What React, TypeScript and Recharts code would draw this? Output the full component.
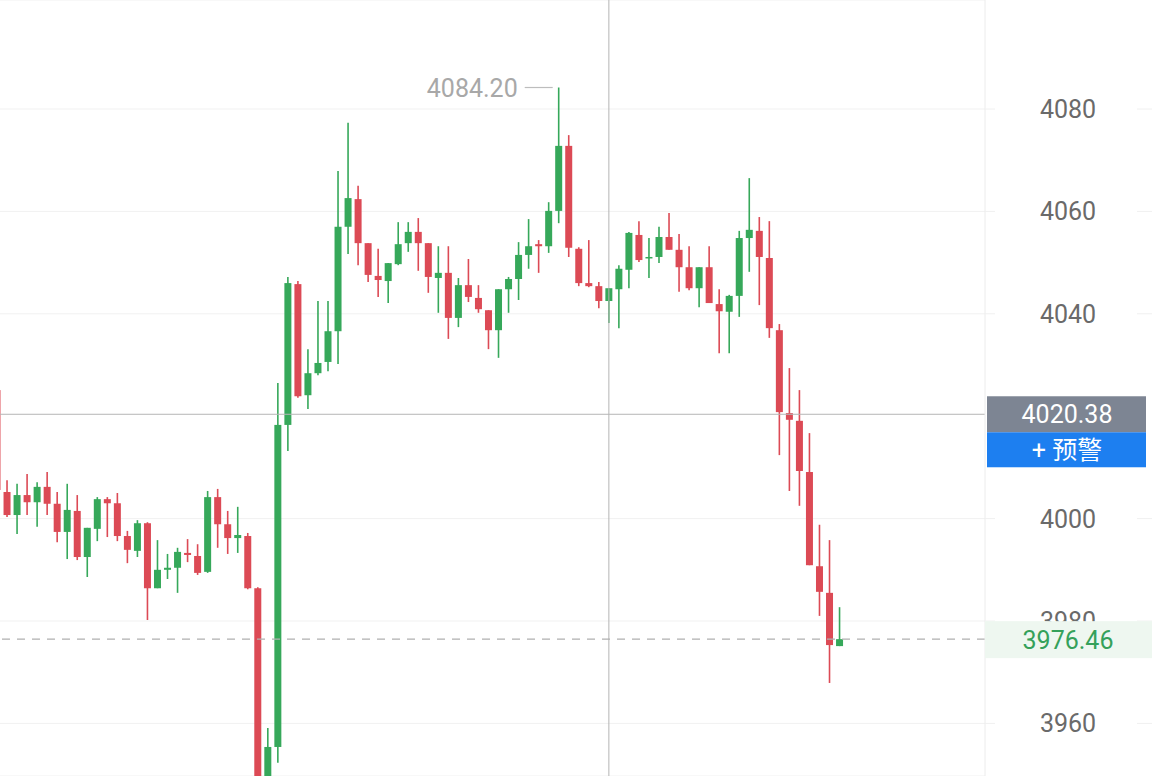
import React from "react"
import { ComposedChart, Bar, XAxis, YAxis, CartesianGrid, ReferenceLine, ReferenceDot } from "recharts"

// OHLC per candle, left to right (first one is cut off by the left edge)
const opens = [
  4025.1, 4005.2, 4000.7, 4004.6, 4003.2, 4006.2, 4002.9, 3997.4, 4001.5, 3992.5,
  3998.0, 4003.8, 4003.0, 3996.6, 3993.7, 3999.1, 3986.4, 3990.0, 3990.4, 3993.3,
  3992.7, 3989.6, 4004.2, 3998.9, 3996.2, 3996.6, 3986.4, 3946.0, 3955.4, 4018.3,
  4045.8, 4024.1, 4028.4, 4030.6, 4036.6, 4057.0, 4062.4, 4053.8, 4047.4, 4046.4,
  4049.7, 4053.8, 4056.0, 4053.8, 4047.0, 4048.0, 4039.2, 4045.6, 4043.1, 4040.7,
  4036.8, 4044.8, 4046.8, 4051.5, 4053.6, 4053.2, 4060.1, 4072.8, 4052.7, 4046.0,
  4045.4, 4042.5, 4044.8, 4048.6, 4055.4, 4051.0, 4051.1, 4055.0, 4052.5, 4049.1,
  4045.0, 4049.1, 4041.9, 4040.4, 4043.5, 4054.8, 4056.2, 4050.9, 4036.8, 4020.6,
  4019.1, 4009.1, 3990.7, 3985.5, 3975.1,
]
const closes = [
  4005.6, 4000.7, 4004.6, 4003.2, 4006.2, 4002.9, 3997.4, 4001.7, 3992.5, 3998.2,
  4003.8, 4003.0, 3996.6, 3993.9, 3999.1, 3986.4, 3990.0, 3990.4, 3993.5, 3992.9,
  3989.4, 4004.2, 3998.9, 3996.2, 3996.8, 3986.4, 3945.0, 3955.4, 4018.3, 4046.0,
  4023.9, 4028.4, 4030.4, 4036.6, 4057.0, 4062.6, 4053.8, 4047.6, 4046.6, 4049.9,
  4053.6, 4056.0, 4053.8, 4047.2, 4048.0, 4039.2, 4045.6, 4043.3, 4040.9, 4036.8,
  4044.8, 4046.8, 4051.5, 4053.2, 4053.2, 4060.1, 4072.8, 4052.9, 4046.0, 4045.4,
  4042.5, 4045.0, 4048.8, 4055.8, 4050.5, 4051.1, 4055.0, 4052.5, 4049.1, 4045.0,
  4049.1, 4042.1, 4040.5, 4043.5, 4054.8, 4056.4, 4051.1, 4037.2, 4020.8, 4019.3,
  4009.3, 3990.9, 3985.7, 3975.3, 3976.46,
]
const highs = [
  4025.5, 4007.5, 4006.8, 4008.7, 4007.1, 4009.1, 4005.2, 4006.8, 4004.6, 3998.2,
  4004.2, 4004.2, 4005.0, 3997.6, 3999.7, 3999.3, 3995.8, 3993.1, 3994.3, 3996.0,
  3995.0, 4005.4, 4005.8, 4001.5, 4002.3, 3997.2, 3986.6, 3959.1, 4026.5, 4047.2,
  4046.4, 4033.1, 4042.5, 4042.5, 4067.9, 4077.3, 4065.0, 4053.8, 4052.7, 4049.9,
  4057.9, 4057.9, 4058.7, 4053.8, 4053.2, 4053.2, 4047.0, 4050.7, 4045.6, 4040.7,
  4044.8, 4047.2, 4054.0, 4058.5, 4054.4, 4061.8, 4084.2, 4074.9, 4053.0, 4054.4,
  4046.2, 4045.0, 4049.5, 4056.0, 4058.1, 4054.8, 4057.0, 4059.7, 4055.6, 4053.2,
  4049.1, 4053.2, 4044.8, 4043.7, 4056.2, 4066.5, 4058.9, 4058.1, 4038.0, 4029.4,
  4025.1, 4016.7, 3998.8, 3995.8, 3982.7,
]
const lows = [
  4005.2, 4000.3, 3997.0, 4000.7, 3998.4, 4000.7, 3995.4, 3992.1, 3991.9, 3988.6,
  3995.6, 3996.4, 3995.6, 3991.3, 3992.5, 3980.2, 3986.4, 3988.2, 3985.5, 3991.5,
  3989.0, 3989.4, 3994.3, 3993.1, 3993.3, 3986.2, 3943.0, 3944.0, 3952.3, 4013.2,
  4023.6, 4021.4, 4028.0, 4028.8, 4030.2, 4051.7, 4049.5, 4046.2, 4043.3, 4042.1,
  4049.5, 4052.1, 4048.4, 4044.1, 4040.2, 4035.1, 4037.4, 4042.3, 4040.2, 4033.1,
  4031.4, 4040.2, 4042.7, 4048.8, 4048.0, 4051.9, 4057.7, 4051.1, 4045.4, 4045.2,
  4041.1, 4038.2, 4037.2, 4045.0, 4050.1, 4047.0, 4049.9, 4052.5, 4044.3, 4044.6,
  4041.3, 4042.1, 4032.3, 4032.3, 4039.4, 4048.2, 4041.7, 4035.3, 4012.4, 4005.4,
  4002.5, 3990.9, 3981.0, 3967.9, 3975.1,
]

const yTicks = [3960, 3980, 4000, 4040, 4060, 4080]
const crossPrice = 4020.38
const lastPrice = 3976.46
const maxHigh = 4084.2
const emptySlots = 14

const UP = "#36a85a"
const DOWN = "#dc4a55"
const FONT = "Roboto, 'Noto Sans CJK SC', sans-serif"
const Y_DOMAIN: [number, number] = [3949.73, 4101.29]

const rows = [
  ...opens.map((o, i) => ({
    i,
    open: o,
    close: closes[i],
    high: highs[i],
    low: lows[i],
    range: [lows[i], highs[i]],
  })),
  ...Array.from({ length: emptySlots }, (_, j) => ({ i: opens.length + j, range: null })),
]

function Candle(props: any) {
  const { x, y, width, height, payload } = props
  if (!payload || !payload.range || isNaN(y) || isNaN(height)) return null
  const top = Math.min(y, y + height)
  const h = Math.abs(height)
  const span = payload.high - payload.low
  const ppu = span > 0 ? h / span : 0
  const up = payload.close >= payload.open
  const color = up ? UP : DOWN
  const cx = x + width / 2
  const bodyTop = top + (payload.high - Math.max(payload.open, payload.close)) * ppu
  const bodyH = Math.max(1.5, Math.abs(payload.close - payload.open) * ppu)
  return (
    <g>
      <line x1={cx} x2={cx} y1={top} y2={top + h} stroke={color} strokeWidth={1.6} />
      <rect x={cx - 3.5} y={bodyTop} width={7} height={bodyH} fill={color} />
    </g>
  )
}

function PriceTick(props: any) {
  const { y, payload } = props
  return (
    <g>
      <line x1={993} x2={1003} y1={y} y2={y} stroke="#f0f0f0" />
      <line x1={1145} x2={1160} y1={y} y2={y} stroke="#f0f0f0" />
      <text x={1076} y={y} dy="0.36em" textAnchor="middle" fontSize={25} fontFamily={FONT} fill="#6a6a6a">
        {payload.value}
      </text>
    </g>
  )
}

function CrossTag(props: any) {
  const vb = props.viewBox || {}
  const right = vb.x + vb.width
  const y = vb.y
  return (
    <g>
      <rect x={right + 2} y={y - 18} width={159} height={36} fill="#7d8593" />
      <text x={right + 82} y={y} dy="0.36em" textAnchor="middle" fontSize={25} fontFamily={FONT} fill="#ffffff">
        {crossPrice.toFixed(2)}
      </text>
      <rect x={right + 2} y={y + 18} width={159} height={35} fill="#1d7ff0" />
      <text x={right + 82} y={y + 35.5} dy="0.36em" textAnchor="middle" fontSize={25} fontFamily={FONT} fill="#ffffff">
        + 预警
      </text>
    </g>
  )
}

function LastTag(props: any) {
  const vb = props.viewBox || {}
  const right = vb.x + vb.width
  const y = vb.y
  return (
    <g>
      <rect x={right} y={y - 18} width={167} height={37} fill="#eef7f0" />
      <text x={right + 83} y={y + 1} dy="0.36em" textAnchor="middle" fontSize={25} fontFamily={FONT} fill="#35a15a">
        {lastPrice.toFixed(2)}
      </text>
    </g>
  )
}

function MaxMark(props: any) {
  const { cx, cy } = props
  if (cx == null || cy == null) return null
  return (
    <g>
      <line x1={cx - 34} x2={cx - 6} y1={cy} y2={cy} stroke="#bdbdbd" strokeWidth={1.2} />
      <text x={cx - 41} y={cy} dy="0.36em" textAnchor="end" fontSize={25} fontFamily={FONT} fill="#a8a8a8">
        {maxHigh.toFixed(2)}
      </text>
    </g>
  )
}

export default function App() {
  const layer = { position: "absolute" as const, left: -8, top: 0 }
  return (
    <div style={{ position: "absolute", left: 0, top: 0, width: 1152, height: 776, overflow: "hidden", background: "#fff" }}>
      <div style={layer}>
        <ComposedChart width={1160} height={776} data={rows} margin={{ top: 0, right: 0, bottom: 0, left: 0 }} barCategoryGap={0}>
          <CartesianGrid vertical={false} stroke="#f1f1f1" />
          <XAxis dataKey="i" hide />
          <YAxis
            orientation="right"
            width={167}
            domain={Y_DOMAIN}
            allowDataOverflow
            ticks={yTicks}
            tick={<PriceTick />}
            tickLine={false}
            axisLine={{ stroke: "#ececec" }}
          />
          <Bar dataKey="range" shape={<Candle />} isAnimationActive={false} />
          <ReferenceLine x={61} stroke="#b5b5b5" strokeWidth={1} />
          <ReferenceLine y={lastPrice} stroke="#b0b0b0" strokeDasharray="8 7" strokeWidth={1.2} />
          <ReferenceLine y={crossPrice} stroke="#b5b5b5" strokeWidth={1} />
          <ReferenceDot x={56} y={maxHigh} r={0} shape={<MaxMark />} isFront />
        </ComposedChart>
      </div>
      {/* price tags sit above the axis labels */}
      <div style={{ ...layer, pointerEvents: "none" }}>
        <ComposedChart width={1160} height={776} data={rows} margin={{ top: 0, right: 0, bottom: 0, left: 0 }}>
          <XAxis dataKey="i" hide />
          <YAxis orientation="right" width={167} domain={Y_DOMAIN} allowDataOverflow tick={false} tickLine={false} axisLine={false} />
          <ReferenceLine y={lastPrice} stroke="none" label={<LastTag />} />
          <ReferenceLine y={crossPrice} stroke="none" label={<CrossTag />} />
        </ComposedChart>
      </div>
    </div>
  )
}
